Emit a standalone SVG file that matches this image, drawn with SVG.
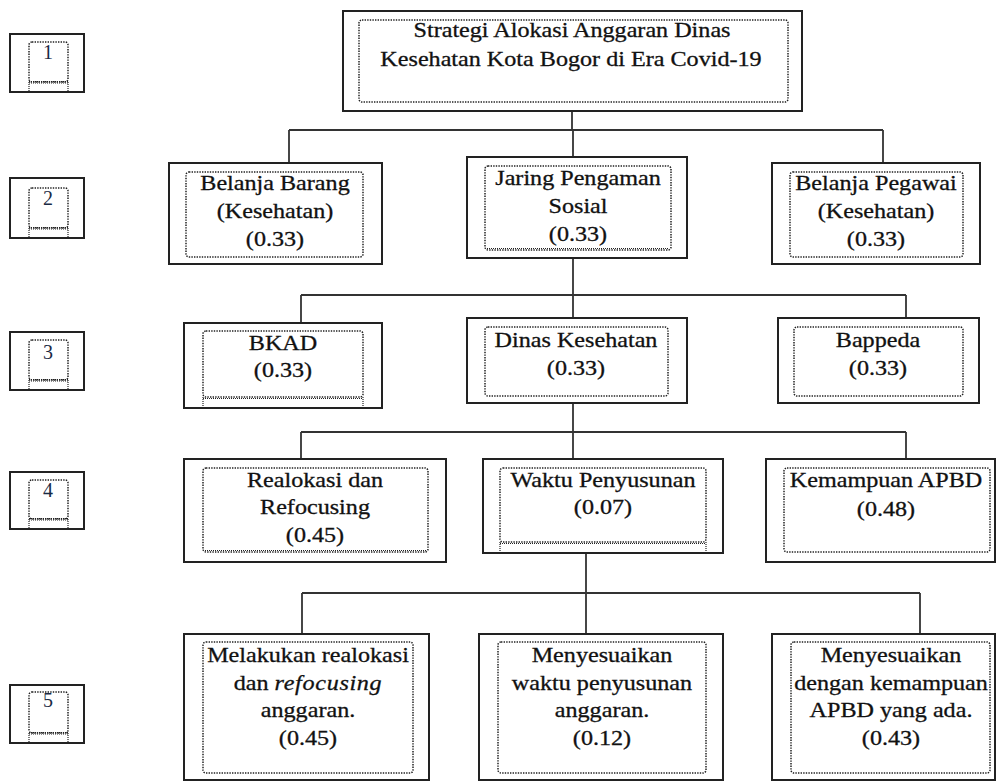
<svg xmlns="http://www.w3.org/2000/svg" width="1001" height="781" viewBox="0 0 1001 781">
<style>
.o{fill:#fff;stroke:#222;stroke-width:2}
.d{fill:none;stroke:#222;stroke-width:1.5;stroke-dasharray:1.4 1.2}
.w{fill:none;stroke:#222;stroke-width:1.2;stroke-dasharray:1 1}
.c{fill:none;stroke:#333;stroke-width:1.8}
.t{font-family:"Liberation Serif","Times New Roman",serif;font-size:21px;fill:#111;stroke:#111;stroke-width:0.3;text-anchor:middle}
.n{font-family:"Liberation Serif","Times New Roman",serif;font-size:20px;fill:#1a2a44;text-anchor:middle}
</style>
<rect width="1001" height="781" fill="#fff"/>

<g id="levels">
  <g id="lvl1"><rect class="o" x="10" y="34" width="74" height="58"/><rect class="d" x="29" y="42" width="39" height="40" rx="3"/><path class="w" d="M29 81.5H68M29 83H68M29 82V92M68 82V92"/><text class="n" x="48" y="59">1</text></g>
  <g id="lvl2"><rect class="o" x="10" y="178" width="74" height="60"/><rect class="d" x="29" y="188" width="39" height="40" rx="3"/><path class="w" d="M29 227.5H68M29 229H68M29 228V238M68 228V238"/><text class="n" x="48" y="205">2</text></g>
  <g id="lvl3"><rect class="o" x="10" y="332" width="74" height="58"/><rect class="d" x="29" y="340" width="39" height="40" rx="3"/><path class="w" d="M29 379.5H68M29 381H68M29 380V390M68 380V390"/><text class="n" x="48" y="359">3</text></g>
  <g id="lvl4"><rect class="o" x="10" y="472" width="74" height="57"/><rect class="d" x="29" y="480" width="39" height="39" rx="3"/><path class="w" d="M29 518.5H68M29 520H68M29 519V529M68 519V529"/><text class="n" x="48" y="497">4</text></g>
  <g id="lvl5"><rect class="o" x="10" y="685" width="74" height="58"/><rect class="d" x="29" y="692" width="39" height="41" rx="3"/><path class="w" d="M29 732.5H68M29 734H68M29 733V743M68 733V743"/><text class="n" x="48" y="707">5</text></g>
</g>

<g id="connectors">
  <path class="c" d="M572 111V130M289 130H883M289 130V163M573 130V157M883 130V163"/>
  <path class="c" d="M573 258V295M301 295H906M301 295V323M573 295V318M906 295V318"/>
  <path class="c" d="M573 403V432M301 432H906M301 432V459M573 432V459M906 432V459"/>
  <path class="c" d="M586 553V593M302 593H920M302 593V634M586 593V634M920 593V634"/>
</g>

<g id="goal">
  <rect class="o" x="343" y="11" width="459" height="100"/>
  <rect class="d" x="359" y="20" width="429" height="82" rx="3"/>
  <text class="t" transform="matrix(1.15 0 0 1 572 37)">Strategi Alokasi Anggaran Dinas</text>
  <text class="t" transform="matrix(1.15 0 0 1 571 66)">Kesehatan Kota Bogor di Era Covid-19</text>
</g>

<g id="belanja-barang">
  <rect class="o" x="169" y="163" width="213" height="101"/>
  <rect class="d" x="186" y="172" width="177" height="85" rx="3"/>
  <text class="t" transform="matrix(1.15 0 0 1 275 190)">Belanja  Barang</text>
  <text class="t" transform="matrix(1.15 0 0 1 275 218)">(Kesehatan)</text>
  <text class="t" transform="matrix(1.15 0 0 1 275 246)">(0.33)</text>
</g>
<g id="jaring">
  <rect class="o" x="467" y="157" width="220" height="101"/>
  <rect class="d" x="485" y="166" width="186" height="84" rx="3"/>
  <path class="w" d="M487 248.5H669"/>
  <text class="t" transform="matrix(1.15 0 0 1 578 185)">Jaring Pengaman</text>
  <text class="t" transform="matrix(1.15 0 0 1 578 213)">Sosial</text>
  <text class="t" transform="matrix(1.15 0 0 1 578 241)">(0.33)</text>
</g>
<g id="belanja-pegawai">
  <rect class="o" x="772" y="163" width="208" height="101"/>
  <rect class="d" x="790" y="172" width="173" height="85" rx="3"/>
  <text class="t" transform="matrix(1.15 0 0 1 876 190)">Belanja Pegawai</text>
  <text class="t" transform="matrix(1.15 0 0 1 876 218)">(Kesehatan)</text>
  <text class="t" transform="matrix(1.15 0 0 1 876 246)">(0.33)</text>
</g>

<g id="bkad">
  <rect class="o" x="184" y="323" width="198" height="85"/>
  <rect class="d" x="203" y="331" width="160" height="66" rx="3"/>
  <path class="w" d="M203 398.5H363M203 397V408M363 397V408"/>
  <text class="t" transform="matrix(1.15 0 0 1 283 350)">BKAD</text>
  <text class="t" transform="matrix(1.15 0 0 1 283 377)">(0.33)</text>
</g>
<g id="dinas">
  <rect class="o" x="467" y="318" width="220" height="85"/>
  <rect class="d" x="485" y="327" width="183" height="69" rx="3"/>
  <text class="t" transform="matrix(1.15 0 0 1 576 347)">Dinas Kesehatan</text>
  <text class="t" transform="matrix(1.15 0 0 1 576 375)">(0.33)</text>
</g>
<g id="bappeda">
  <rect class="o" x="778" y="318" width="201" height="85"/>
  <rect class="d" x="794" y="327" width="169" height="69" rx="3"/>
  <text class="t" transform="matrix(1.15 0 0 1 878 347)">Bappeda</text>
  <text class="t" transform="matrix(1.15 0 0 1 878 375)">(0.33)</text>
</g>

<g id="realokasi">
  <rect class="o" x="184" y="459" width="262" height="103"/>
  <rect class="d" x="203" y="468" width="225" height="84" rx="3"/>
  <path class="w" d="M205 550.5H426"/>
  <text class="t" transform="matrix(1.15 0 0 1 315 487)">Realokasi dan</text>
  <text class="t" transform="matrix(1.15 0 0 1 315 514)">Refocusing</text>
  <text class="t" transform="matrix(1.15 0 0 1 315 542)">(0.45)</text>
</g>
<g id="waktu">
  <rect class="o" x="483" y="459" width="240" height="94"/>
  <rect class="d" x="500" y="468" width="206" height="74" rx="3"/>
  <path class="w" d="M500 543.5H706M500 542V553M706 542V553"/>
  <text class="t" transform="matrix(1.15 0 0 1 603 487)">Waktu Penyusunan</text>
  <text class="t" transform="matrix(1.15 0 0 1 603 514)">(0.07)</text>
</g>
<g id="kemampuan">
  <rect class="o" x="766" y="459" width="229" height="103"/>
  <rect class="d" x="784" y="468" width="206" height="84" rx="3"/>
  <text class="t" transform="matrix(1.15 0 0 1 886 487)">Kemampuan APBD</text>
  <text class="t" transform="matrix(1.15 0 0 1 886 516)">(0.48)</text>
</g>

<g id="alt-realokasi">
  <rect class="o" x="184" y="634" width="245" height="146"/>
  <rect class="d" x="203" y="642" width="210" height="131" rx="3"/>
  <text class="t" transform="matrix(1.15 0 0 1 308 662)">Melakukan realokasi</text>
  <text class="t" transform="matrix(1.15 0 0 1 308 690)">dan <tspan font-style="italic" letter-spacing="0.6">refocusing</tspan></text>
  <text class="t" transform="matrix(1.15 0 0 1 308 717)">anggaran.</text>
  <text class="t" transform="matrix(1.15 0 0 1 308 745)">(0.45)</text>
</g>
<g id="alt-waktu">
  <rect class="o" x="479" y="634" width="244" height="146"/>
  <rect class="d" x="498" y="642" width="208" height="131" rx="3"/>
  <text class="t" transform="matrix(1.15 0 0 1 602 662)">Menyesuaikan</text>
  <text class="t" transform="matrix(1.15 0 0 1 602 690)">waktu penyusunan</text>
  <text class="t" transform="matrix(1.15 0 0 1 602 717)">anggaran.</text>
  <text class="t" transform="matrix(1.15 0 0 1 602 745)">(0.12)</text>
</g>
<g id="alt-apbd">
  <rect class="o" x="772" y="634" width="223" height="146"/>
  <rect class="d" x="791" y="642" width="199" height="131" rx="3"/>
  <text class="t" transform="matrix(1.15 0 0 1 891 662)">Menyesuaikan</text>
  <text class="t" transform="matrix(1.15 0 0 1 891 690)">dengan kemampuan</text>
  <text class="t" transform="matrix(1.15 0 0 1 891 717)">APBD yang ada.</text>
  <text class="t" transform="matrix(1.15 0 0 1 891 745)">(0.43)</text>
</g>
</svg>
